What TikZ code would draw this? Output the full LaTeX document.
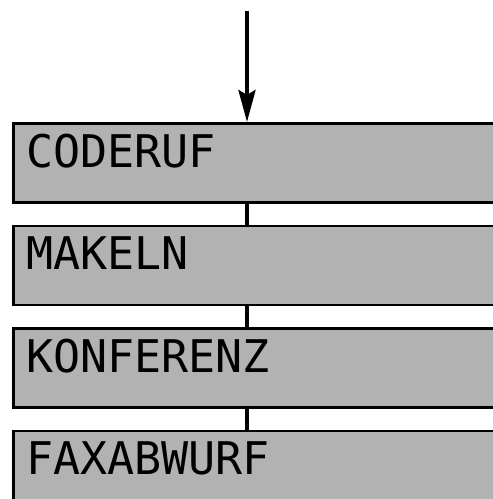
\documentclass[tikz,border=0pt]{standalone}
\usepackage{fontspec}
\newfontfamily\lcdfont{DejaVu Sans Mono}
\usetikzlibrary{positioning,arrows.meta}

\begin{document}
\begin{tikzpicture}[x=1pt,y=1pt]
\tikzstyle{panel}=[rectangle,draw,line width=2.5pt,fill=black!30,inner xsep=13pt,inner ysep=0pt,
  text width=500pt,align=left,text height=44pt,text depth=35pt,font=\lcdfont\fontsize{45}{45}\selectfont]
\tikzstyle{link}=[line width=4pt]
\tikzstyle{every node}=[panel]
\useasboundingbox (0,0) rectangle (493,-499);
\clip (0,0) rectangle (493,-499);
\coordinate (top) at (247,-11);
\node[anchor=north west] (coderuf) at (12,-122) {CODERUF};
\node[below=21pt of coderuf] (makeln) {MAKELN};
\node[below=21pt of makeln] (konferenz) {KONFERENZ};
\node[below=21pt of konferenz] (faxabwurf) {FAXABWURF};
\draw[link,-{Stealth[length=32pt,width=17pt,inset=5pt]}] (top) -- (top |- coderuf.north);
\draw[link] (top |- coderuf.south) -- (top |- makeln.north);
\draw[link] (top |- makeln.south) -- (top |- konferenz.north);
\draw[link] (top |- konferenz.south) -- (top |- faxabwurf.north);
\end{tikzpicture}
\end{document}
